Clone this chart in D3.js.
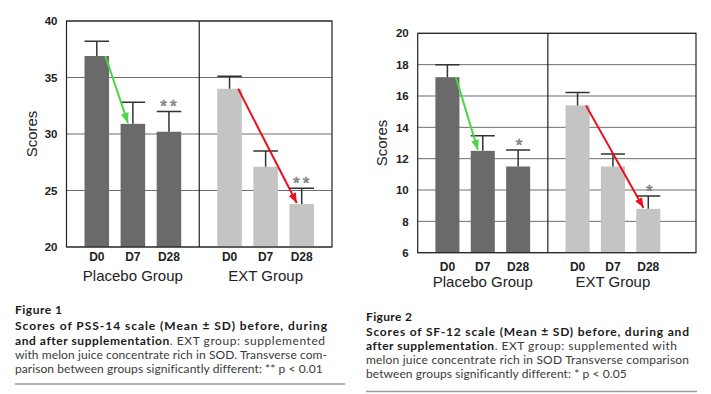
<!DOCTYPE html>
<html>
<head>
<meta charset="utf-8">
<script src="https://cdn.jsdelivr.net/npm/d3@7"></script>
<style>
  body { margin: 0; background: #fff; }
  svg { display: block; }
</style>
</head>
<body>
<div id="chart"></div>
<script>
// data
var groups = ["Placebo Group", "EXT Group"];
var days = ["D0", "D7", "D28"];

var pssMeans = [[36.9, 30.9, 30.2], [34.0, 27.1, 23.8]];
var pssSD    = [[1.3, 1.9, 1.8], [1.1, 1.4, 1.4]];
var pssTicks = [20, 25, 30, 35, 40];
var pssStars = [["", "", "**"], ["", "", "**"]];

var sfMeans = [[17.2, 12.5, 11.5], [15.4, 11.5, 8.8]];
var sfSD    = [[0.8, 0.97, 1.05], [0.83, 0.8, 0.82]];
var sfTicks = [6, 8, 10, 12, 14, 16, 18, 20];
var sfStars = [["", "", "*"], ["", "", "*"]];

// arrows: group, from day, to day, colour
var arrows = [
  {group: 0, from: 0, to: 1, color: "#4cd444"},
  {group: 1, from: 0, to: 2, color: "#ec1020"}
];

var caption1 = [
  [{t: "Figure 1", b: true}],
  [{t: "Scores of PSS-14 scale (Mean ± SD) before, during", b: true}],
  [{t: "and after supplementation", b: true}, {t: ". EXT group: supplemented", b: false}],
  [{t: "with melon juice concentrate rich in SOD. Transverse com-", b: false}],
  [{t: "parison between groups significantly different: ** p < 0.01", b: false}]
];
var caption2 = [
  [{t: "Figure 2", b: true}],
  [{t: "Scores of SF-12 scale (Mean ± SD) before, during and", b: true}],
  [{t: "after supplementation", b: true}, {t: ". EXT group: supplemented with", b: false}],
  [{t: "melon juice concentrate rich in SOD Transverse comparison", b: false}],
  [{t: "between groups significantly different: * p < 0.05", b: false}]
];

var W = 711, H = 394;
var barColors = ["#6a6a6a", "#c4c4c4"];
var font = "'Liberation Sans', Arial, sans-serif";
var capFont = "Lato, 'Open Sans', sans-serif";

var svg = d3.select("#chart").append("svg")
    .attr("width", W)
    .attr("height", H);

var defs = svg.append("defs");
arrows.forEach(function(a, i) {
  defs.append("marker")
      .attr("id", "head" + i)
      .attr("markerUnits", "userSpaceOnUse")
      .attr("viewBox", "0 0 10 8")
      .attr("refX", 10)
      .attr("refY", 4)
      .attr("markerWidth", 10)
      .attr("markerHeight", 8)
      .attr("orient", "auto")
    .append("path")
      .attr("d", "M0,0L10,4L0,8Z")
      .attr("fill", a.color);
});

function drawChart(opt)
{
  var left = opt.left, right = opt.right, top = opt.top, bottom = opt.bottom;

  var y = d3.scaleLinear()
      .domain(opt.domain)
      .range([bottom, top]);

  var x0 = d3.scaleBand()
      .domain(groups)
      .range([left, opt.groupRight]);

  var x1 = d3.scaleBand()
      .domain(days)
      .range([0, x0.bandwidth()])
      .paddingInner(0.32)
      .paddingOuter(0.5);

  var g = svg.append("g");

  // grid
  g.selectAll(".grid")
      .data(opt.ticks)
    .enter().append("line")
      .attr("x1", left).attr("x2", right)
      .attr("y1", function(d) { return y(d); })
      .attr("y2", function(d) { return y(d); })
      .attr("stroke", "#6e6e6e")
      .attr("stroke-width", 1);

  // y axis labels
  var yAxis = d3.axisLeft(y)
      .tickValues(opt.ticks)
      .tickSize(0)
      .tickPadding(9);

  var ax = g.append("g")
      .attr("transform", "translate(" + left + ",0)")
      .call(yAxis);
  ax.select(".domain").remove();
  ax.selectAll("text")
      .style("font-family", font)
      .style("font-size", "11.5px")
      .style("font-weight", "bold")
      .attr("fill", "#222");

  g.append("text")
      .attr("transform", "translate(" + opt.labelX + "," + ((top + bottom) / 2) + ") rotate(-90)")
      .attr("dy", "0.35em")
      .attr("text-anchor", "middle")
      .style("font-family", font)
      .style("font-size", "15px")
      .attr("fill", "#222")
      .text("Scores");

  // bars
  var slice = g.selectAll(".slice")
      .data(groups)
    .enter().append("g")
      .attr("transform", function(d) { return "translate(" + x0(d) + ",0)"; });

  slice.each(function(grp, gi) {
    var s = d3.select(this);
    var rows = days.map(function(d, di) {
      return {day: d, mean: opt.means[gi][di], sd: opt.sd[gi][di], star: opt.stars[gi][di]};
    });

    s.selectAll("rect")
        .data(rows)
      .enter().append("rect")
        .attr("x", function(d) { return x1(d.day); })
        .attr("width", x1.bandwidth())
        .attr("y", function(d) { return y(d.mean); })
        .attr("height", function(d) { return bottom - y(d.mean); })
        .attr("fill", barColors[gi]);

    s.selectAll(".err")
        .data(rows)
      .enter().append("path")
        .attr("d", function(d) {
          var cx = x1(d.day) + x1.bandwidth() / 2;
          var yt = y(d.mean + d.sd);
          return "M" + cx + "," + y(d.mean) + "V" + yt +
                 "M" + x1(d.day) + "," + yt + "H" + (x1(d.day) + x1.bandwidth());
        })
        .attr("fill", "none")
        .attr("stroke", "#333")
        .attr("stroke-width", 1.5);

    s.selectAll(".star")
        .data(rows.filter(function(d) { return d.star; }))
      .enter().append("text")
        .attr("x", function(d) { return x1(d.day) + x1.bandwidth() / 2 + 1; })
        .attr("y", function(d) { return y(d.mean + d.sd) + opt.starDy; })
        .attr("text-anchor", "middle")
        .style("font-family", font)
        .style("font-size", "17px")
        .style("letter-spacing", opt.starSpacing)
        .attr("fill", "#d0d0d0")
        .attr("stroke", "#6a6a6a")
        .attr("stroke-width", 0.6)
        .text(function(d) { return d.star; });

    s.selectAll(".day")
        .data(rows)
      .enter().append("text")
        .attr("x", function(d) { return x1(d.day) + x1.bandwidth() / 2; })
        .attr("y", opt.dayY)
        .attr("text-anchor", "middle")
        .style("font-family", font)
        .style("font-size", "12px")
        .style("font-weight", "bold")
        .attr("fill", "#222")
        .text(function(d) { return d.day; });
  });

  // group labels
  g.selectAll(".grp")
      .data(groups)
    .enter().append("text")
      .attr("x", function(d) { return x0(d) + x0.bandwidth() / 2; })
      .attr("y", opt.groupY)
      .attr("text-anchor", "middle")
      .style("font-family", font)
      .style("font-size", "15px")
      .attr("fill", "#222")
      .text(function(d) { return d; });

  // frame and divider
  g.append("rect")
      .attr("x", left).attr("y", top)
      .attr("width", right - left).attr("height", bottom - top)
      .attr("fill", "none")
      .attr("stroke", "#222")
      .attr("stroke-width", 1.2);

  g.append("line")
      .attr("x1", x0(groups[1])).attr("x2", x0(groups[1]))
      .attr("y1", top).attr("y2", bottom)
      .attr("stroke", "#222")
      .attr("stroke-width", 1.2);

  // arrows
  arrows.forEach(function(a, i) {
    var gx = x0(groups[a.group]);
    var bw = x1.bandwidth();
    g.append("line")
        .attr("x1", gx + x1(days[a.from]) + bw * 0.85)
        .attr("y1", y(opt.means[a.group][a.from]))
        .attr("x2", gx + x1(days[a.to]) + bw * 0.3)
        .attr("y2", y(opt.means[a.group][a.to]) - 1)
        .attr("stroke", a.color)
        .attr("stroke-width", 2)
        .attr("marker-end", "url(#head" + i + ")");
  });

  // caption, each line stretched to the width it has in the print
  var cap = svg.append("g");
  opt.caption.forEach(function(line, li) {
    var t = cap.append("text")
        .attr("x", opt.capX)
        .attr("y", opt.capY[li])
        .style("font-family", capFont)
        .style("font-size", "12px");
    line.forEach(function(part) {
      t.append("tspan")
          .style("font-weight", part.b ? "bold" : "normal")
          .attr("fill", part.b ? "#1a1a1a" : "#3a3a3a")
          .text(part.t);
    });
    var n = line.map(function(p) { return p.t; }).join("").length;
    var natural = t.node().getComputedTextLength();
    var ls = (opt.capWidths[li] - natural) / (n - 1);
    t.style("letter-spacing", Math.max(0, ls) + "px");
  });

  cap.append("line")
      .attr("x1", opt.capX).attr("x2", opt.ruleRight)
      .attr("y1", opt.ruleY).attr("y2", opt.ruleY)
      .attr("stroke", "#9a9a9a")
      .attr("stroke-width", 1.5);
}

drawChart({
  left: 66.5, right: 332, groupRight: 332, top: 21, bottom: 247,
  domain: [20, 40], ticks: pssTicks,
  means: pssMeans, sd: pssSD, stars: pssStars,
  starDy: 1, starSpacing: "3px",
  labelX: 32, dayY: 261, groupY: 281,
  caption: caption1, capX: 15,
  capY: [314, 330, 344.5, 358.5, 372.5],
  capWidths: [47, 312, 310, 312, 307],
  ruleY: 384, ruleRight: 345
});

drawChart({
  left: 417.7, right: 696, groupRight: 678, top: 33.3, bottom: 252.7,
  domain: [6, 20], ticks: sfTicks,
  means: sfMeans, sd: sfSD, stars: sfStars,
  starDy: 1, starSpacing: "0px",
  labelX: 382, dayY: 271, groupY: 287,
  caption: caption2, capX: 366,
  capY: [321, 335.5, 349.5, 364, 378],
  capWidths: [46, 323, 311, 323, 260],
  ruleY: 391.5, ruleRight: 697
});
</script>
</body>
</html>
